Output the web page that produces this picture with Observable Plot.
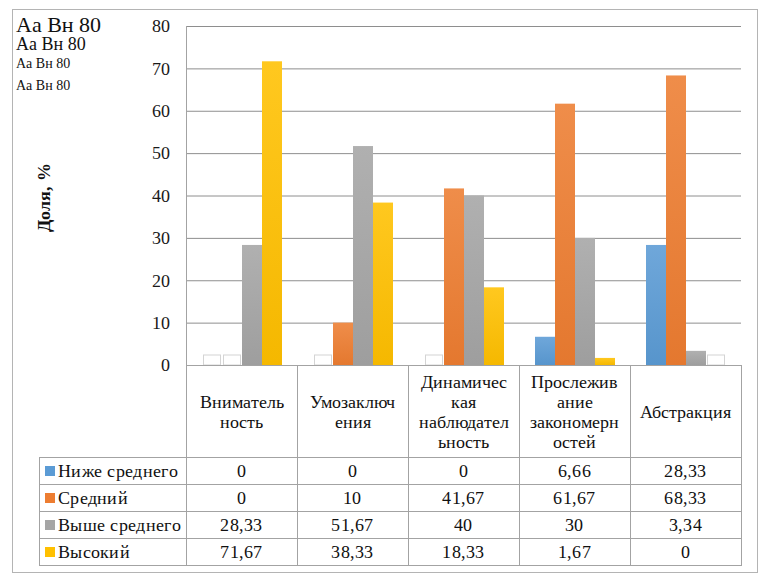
<!DOCTYPE html>
<html lang="ru">
<head>
<meta charset="utf-8">
<script src="https://cdn.jsdelivr.net/npm/d3@7"></script>
<script src="https://cdn.jsdelivr.net/npm/@observablehq/plot@0.6"></script>
<style>
  @font-face { font-family: "ChartSerif"; src: local("Liberation Serif"), local("LiberationSerif"), local("LiberationSerif-Regular"); font-weight: normal; }
  @font-face { font-family: "ChartSerif"; src: local("Liberation Serif Bold"), local("LiberationSerif-Bold"); font-weight: bold; }
  html, body { margin: 0; padding: 0; background: #fff; }
  #wrapfig { position: relative; width: 768px; height: 578px; overflow: hidden; color: #111; font-size: 18px; }
  .abs { position: absolute; }
  .hl { position: absolute; height: 1px; background: #a3a3a3; }
  .vl { position: absolute; width: 1px; background: #a3a3a3; }
  .hdr { position: absolute; display: flex; align-items: center; justify-content: center; text-align: center; font-size: 18px; line-height: 20px; }
  .val { position: absolute; display: flex; align-items: center; justify-content: center; font-size: 18px; }
  .leg { position: absolute; display: flex; align-items: center; font-size: 18px; white-space: nowrap; }
  .sw { width: 10px; height: 10px; margin-right: 3px; margin-left: 5px; }
  .tcls { font-family: "Liberation Serif", monospace; }
</style>
</head>
<body>
<div id="wrapfig"></div>
<script>
const categories = ["Внимательность", "Умозаключения", "Динамическая наблюдательность", "Прослеживание закономерностей", "Абстракция"];
const categoryLines = [["Вниматель", "ность"], ["Умозаключ", "ения"], ["Динамичес", "кая", "наблюдател", "ьность"], ["Прослежив", "ание", "закономерн", "остей"], ["Абстракция"]];
const series = ["Ниже среднего", "Средний", "Выше среднего", "Высокий"];
const belowAverage = [0, 0, 0, 6.66, 28.33];
const average = [0, 10, 41.67, 61.67, 68.33];
const aboveAverage = [28.33, 51.67, 40, 30, 3.34];
const high = [71.67, 38.33, 18.33, 1.67, 0];
const valueLabels = [
  ["0", "0", "0", "6,66", "28,33"],
  ["0", "10", "41,67", "61,67", "68,33"],
  ["28,33", "51,67", "40", "30", "3,34"],
  ["71,67", "38,33", "18,33", "1,67", "0"]
];
const colors = ["#5B9BD5", "#ED7D31", "#A5A5A5", "#FFC000"];
const yTicks = [0, 10, 20, 30, 40, 50, 60, 70, 80];
const yTitle = "Доля, %";

const fam = ["ChartSerif", "Liberation Serif"];
const FONT = fam.map(f => `"${f}"`).join(", ") + ", serif";

const seriesValues = [belowAverage, average, aboveAverage, high];
const rows = [];
series.forEach((s, si) => categories.forEach((c, ci) => rows.push({category: c, series: s, value: seriesValues[si][ci]})));

const gradIds = colors.map((c, i) => `grad${i}`);

const wrap = document.getElementById("wrapfig");
wrap.style.fontFamily = FONT;

function el(cls, styles) {
  const d = document.createElement("div");
  if (cls) d.className = cls;
  Object.assign(d.style, styles);
  d.style.fontFamily = FONT;
  wrap.appendChild(d);
  return d;
}

el("abs", {left: "12px", top: "9px", width: "746px", height: "564px", border: "1px solid #b4b4b4", boxSizing: "border-box"});

// small font probes in the empty top-left corner
const probes = [[22, "inline"], [18, "inline"], [14, "inline"], [14, "class"]];
probes.forEach(([sz, how], i) => {
  const d = document.createElement("div");
  d.className = "abs" + (how === "class" ? " tcls" : "");
  d.style.left = "16px";
  d.style.top = (12 + i * 22) + "px";
  d.style.fontSize = sz + "px";
  if (how === "inline") d.style.fontFamily = `"${fam[1]}", monospace`;
  d.textContent = "Aa Вн 80";
  wrap.appendChild(d);
});

const chart = Plot.plot({
  width: 768,
  height: 370,
  marginLeft: 186,
  marginRight: 27,
  marginTop: 26,
  marginBottom: 5,
  style: {fontFamily: FONT, fontSize: "18px", color: "#1a1a1a", background: "transparent", overflow: "visible"},
  fx: {domain: categories, padding: 0, axis: null, label: null},
  x: {domain: series, paddingInner: 0, paddingOuter: 0.73, axis: null},
  y: {domain: [0, 80], ticks: yTicks, tickSize: 0, tickPadding: 17, label: null, tickFormat: d => String(d)},
  color: {domain: series, range: gradIds.map(id => `url(#${id})`)},
  marks: [
    Plot.ruleY(yTicks, {stroke: "#8e8e8e", strokeWidth: 1}),
    Plot.barY(rows.filter(d => d.value === 0), {fx: "category", x: "series", y: "value", fill: "white", stroke: "#d4d4d4", strokeWidth: 1, insetTop: -10, insetLeft: 1.5, insetRight: 1.5}),
    Plot.barY(rows.filter(d => d.value > 0), {fx: "category", x: "series", y: "value", fill: "series", inset: 0, style: "filter: drop-shadow(1px 0px 1.5px rgba(0,0,0,0.3))"})
  ]
});

const svg = d3.select(chart.tagName === "svg" ? chart : chart.querySelector("svg"));
const defs = svg.insert("defs", ":first-child");
colors.forEach((c, i) => {
  const g = defs.append("linearGradient").attr("id", gradIds[i]).attr("x1", 0).attr("y1", 0).attr("x2", 0).attr("y2", 1);
  g.append("stop").attr("offset", "0%").attr("stop-color", d3.interpolateRgb(c, "#fff")(0.12));
  g.append("stop").attr("offset", "100%").attr("stop-color", d3.interpolateRgb(c, "#000")(0.04));
});
svg.selectAll("text").attr("font-family", FONT).style("font-family", FONT);

chart.style.position = "absolute";
chart.style.left = "0px";
chart.style.top = "0px";
wrap.appendChild(chart);

const fx = chart.scale("fx");
const bw = fx.bandwidth;
const fxLeft = categories.map(c => {
  const v = fx.apply(c);
  return v < 186 - 1 ? v + 186 : v;
});

const yt = el("abs", {left: "44px", top: "197px", transform: "translate(-50%, -50%) rotate(-90deg)", fontWeight: "bold", fontSize: "18px", whiteSpace: "nowrap"});
yt.textContent = yTitle;

const tableLeft = 39;
const plotLeft = fxLeft[0];
const plotRight = fxLeft[fxLeft.length - 1] + bw;
const headerTop = 365;
const headerBottom = 457;
const rowH = 27;
const tableBottom = headerBottom + rowH * series.length;

function hline(x1, x2, y) { el("hl", {left: x1 + "px", top: y + "px", width: (x2 - x1 + 1) + "px"}); }
function vline(x, y1, y2) { el("vl", {left: x + "px", top: y1 + "px", height: (y2 - y1 + 1) + "px"}); }

vline(Math.round(plotLeft), 26, tableBottom);
hline(Math.round(plotLeft), Math.round(plotRight), headerTop);
for (let i = 0; i <= series.length; i++) hline(tableLeft, Math.round(plotRight), headerBottom + i * rowH);
vline(tableLeft, headerBottom, tableBottom);
fxLeft.slice(1).forEach(x => vline(Math.round(x), headerTop, tableBottom));
vline(Math.round(plotRight), headerTop, tableBottom);

categories.forEach((c, i) => {
  const d = el("hdr", {left: fxLeft[i] + "px", top: (headerTop + 1) + "px", width: bw + "px", height: (headerBottom - headerTop - 1) + "px"});
  d.innerHTML = categoryLines[i].join("<br>");
});

series.forEach((s, si) => {
  const top = headerBottom + si * rowH + 1;
  const l = el("leg", {left: (tableLeft + 1) + "px", top: top + "px", height: (rowH - 1) + "px", letterSpacing: "0.3px"});
  const sw = document.createElement("span");
  sw.className = "sw";
  sw.style.background = colors[si];
  l.appendChild(sw);
  const t = document.createElement("span");
  t.style.fontFamily = FONT;
  t.textContent = s;
  l.appendChild(t);
  categories.forEach((c, ci) => {
    const v = el("val", {left: fxLeft[ci] + "px", top: top + "px", width: bw + "px", height: (rowH - 1) + "px", letterSpacing: "0.3px"});
    v.textContent = valueLabels[si][ci];
  });
});
</script>
</body>
</html>
